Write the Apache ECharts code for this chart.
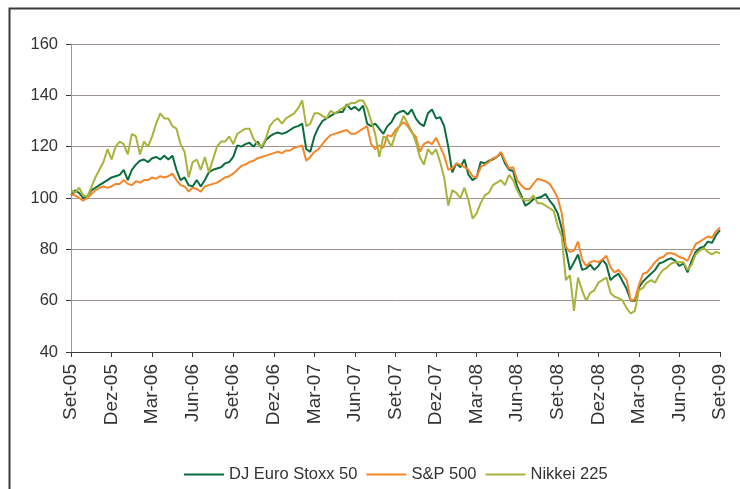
<!DOCTYPE html>
<html>
<head>
<meta charset="utf-8">
<script src="https://cdn.jsdelivr.net/npm/echarts@6/dist/echarts.min.js"></script>
<style>html,body{margin:0;padding:0;background:#fff;}#c{width:740px;height:489px;}</style>
</head>
<body>
<div id="c"></div>
<script>
const tickLabels = ['Set-05','Dez-05','Mar-06','Jun-06','Set-06','Dez-06','Mar-07','Jun-07','Set-07','Dez-07','Mar-08','Jun-08','Set-08','Dez-08','Mar-09','Jun-09','Set-09'];
const pointsPerTick = 10;
const seriesNames = ['DJ Euro Stoxx 50','S&P 500','Nikkei 225'];

const djEuroStoxx = [
101,103,102,100,100.5,103,104,105,106,107,
108,108.5,109,111,107,111,113,114.5,115,114,
115.5,116,115,116.5,115,116.5,111,107,108,105,
104.5,107,104.5,107,110,111,111.5,112,113.5,114,
116,120.5,120,121,121.5,120,122,119.5,122.5,124,
125,125.5,125,125.5,126.5,127.5,128,129,119,118,
124,127.5,130,131,132,133,133.5,133.5,136.5,134.5,
135.5,134,136,129,128,129,127,125,128,129.5,
132.5,133.5,134,132.5,134.5,131,129,128,133,134.5,
131,131.5,128,120,110,113.5,112,115,109,107,
108,114,113.5,114.5,115,116,117.5,113.5,111,110.5,
104.5,101,97,98,99.5,100,100.5,101.5,99,97,
94,88,80,72,75,78,72,72.5,74,72,
73.5,76,74,68,69.5,70.5,67.5,64.5,60,60,
65,67.5,69,70.5,72,74.5,75,76,76.5,75.5,
73.5,74.5,71,75.5,79,80.5,81,83,82.5,85.5,
87.5
];

const sp500 = [
101.5,101,100,99,100,101.5,103,104,104.5,104,
104.5,105.5,105.5,107,105.5,105,106.5,106,107,107,
108,107.5,108.5,108,108.5,109.5,107,105,104.5,102.5,
104,103.5,102.5,104.5,105,105.5,106,107,108,108.5,
109.5,111,112.5,113,114,114.5,115.5,116,116.5,117,
117.5,118,117.5,118.5,118.5,119.5,120,120.5,114.5,116,
118,119,121,123,124.5,125,125.5,126,126.5,125,
125,126,127,128,121,119,120.5,119.5,124.5,124,
126.5,128,129.5,128,125.5,124,118,121,122,121,
123.5,120,116.5,111,111.5,113.5,113,112,111,108.5,
108,112,113,114,115.5,116,118,114.5,111.5,112,
107,105,103.5,103.5,105.5,107.5,107,106.5,105.5,103,
100,94,81,79,79.5,83,76,73.5,75,75.5,
75,76,77.5,73,71,72,70,68,60,60.5,
66,70.5,71,73,75,76.5,77,78.5,78.5,78,
77,76.5,75.5,79,82,83,84,85,84.5,87,
88.5
];

const nikkei225 = [
103,102,104,101,100.5,104,108,111,114,119,
115,120,122,121,117,125,124,117,122,120,
124,129,133,131,131,128,127,121,118,108,
114,115,111,116,110,115,120,122,122,124,
121,125,126,127,127,123,121,120,123,128,
130,131,129,131,132,133,135,138,128,129,
133,133,132,131,134,133,134,135,136,137,
137,138,138,135,130,125,116,124,123,120,
125,128,132,129,126,122,116,113,119,117,
119,114,108,97,103,102,100,104,99,92,
94,98,101,102,105,106,107,105,109,107,
103,100,99,99,101,98,98,97,96,95,
89,85,68,70,56,69,64,60,63,64,
67,68,69,63,61.5,61,60,57,55,56,
64,65,67,68,67,70,72,73,74.5,75,
75,75,72,74,78,79.5,80.5,79,78,79,
78.5
];

const categories = djEuroStoxx.map((_, i) => String(i));
const colors = ['#0b6d3f', '#f5862a', '#a9b23b'];

const chart = echarts.init(document.getElementById('c'), null, {renderer: 'canvas'});
const mk = (name, data, color) => ({
  name, type: 'line', data, showSymbol: false, symbol: 'none',
  lineStyle: {color, width: 2}, itemStyle: {color}, animation: false
});
chart.setOption({
  animation: false,
  backgroundColor: '#ffffff',
  textStyle: {fontFamily: 'Liberation Sans, Arial, sans-serif'},
  graphic: [{
    type: 'polyline', silent: true,
    shape: {points: [[9.5, 489], [9.5, 8.5], [740, 8.5]]},
    style: {stroke: '#3a3a3a', lineWidth: 2, fill: null}
  }],
  grid: {left: 71, right: 20, top: 44, bottom: 137, containLabel: false, outerBoundsMode: 'none'},
  legend: {
    left: 179, top: 461, itemWidth: 40, itemHeight: 2, itemGap: 9, icon: 'rect',
    textStyle: {fontSize: 16.5, color: '#333', fontFamily: 'Liberation Sans, Arial, sans-serif'},
    data: seriesNames
  },
  xAxis: {
    type: 'category', data: categories, boundaryGap: false,
    axisLine: {lineStyle: {color: '#3c3c3c', width: 1}},
    axisTick: {show: true, interval: pointsPerTick - 1, length: 5, lineStyle: {color: '#3c3c3c'}},
    axisLabel: {
      interval: pointsPerTick - 1, rotate: 90, margin: 12, fontSize: 19, color: '#333',
      formatter: (v, idx) => tickLabels[Math.round(idx / pointsPerTick)] || ''
    },
    splitLine: {show: false}
  },
  yAxis: {
    type: 'value', min: 40, max: 160, interval: 20,
    axisLine: {show: true, lineStyle: {color: '#9a9a9a', width: 1}},
    axisTick: {show: true, length: 5, lineStyle: {color: '#3c3c3c'}},
    axisLabel: {fontSize: 16.5, color: '#333', margin: 13},
    splitLine: {show: true, lineStyle: {color: '#9e938e', width: 1}}
  },
  series: [
    mk(seriesNames[0], djEuroStoxx, colors[0]),
    mk(seriesNames[1], sp500, colors[1]),
    mk(seriesNames[2], nikkei225, colors[2])
  ]
});
</script>
</body>
</html>
